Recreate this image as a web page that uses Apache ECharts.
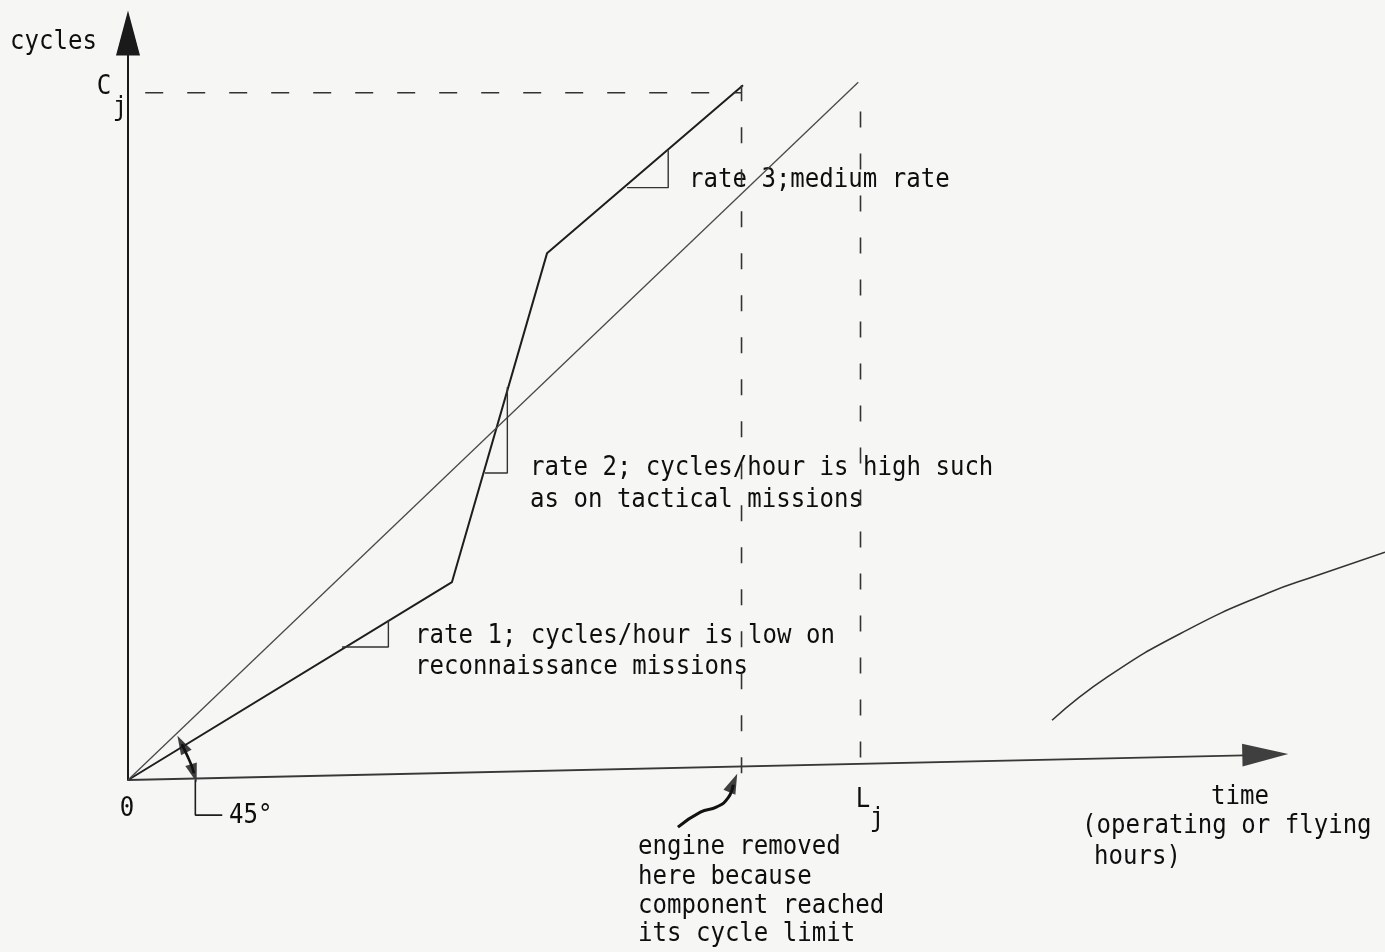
<!DOCTYPE html>
<html>
<head>
<meta charset="utf-8">
<script src="https://cdn.jsdelivr.net/npm/echarts@6/dist/echarts.min.js"></script>
<style>
  html, body { margin: 0; padding: 0; background: #f6f6f4; }
  #chart { width: 1385px; height: 952px; }
</style>
</head>
<body>
<div id="chart"></div>
<script>
// ---- data (time units on x, cycle units on y) ----
const engineTime   = [0, 43.3, 56.0, 82.2];
const engineCycles = [0, 26.5, 70.5, 93.0];
const refTime      = [0, 97.6];
const refCycles    = [0, 93.4];
const cycleLimitCj = 92.0;
const cjLineStart  = 2.3;
const removalTime  = 82.0;
const lifeLimitLj  = 97.9;
const ljTop        = 89.5;
const ljBottom     = 2.2;
// time axis as drawn (the scanned axis rises slightly to the right)
const timeAxisLine = [[0, 0], [149.2, 3.3]];
const timeAxisHead = [[152.0, 3.4]];
// slope-indicator triangles [time, cycles]
const rate1Tri = [[28.6, 17.8], [34.8, 17.8], [34.8, 21.4]];
const rate2Tri = [[47.7, 41.1], [50.7, 41.1], [50.7, 52.6]];
const rate3Tri = [[66.7, 79.3], [72.2, 79.3], [72.2, 84.3]];
// annotation arrows
const angleArc     = [[7.2, 4.8], [7.9, 3.3], [8.5, 1.9], [8.8, 0.9]];
const angleHeads   = [[7.2, 4.8], [8.8, 0.9]];
const angleLeader  = [[9.0, 0], [9.0, -4.7], [12.6, -4.7]];
const removalArrow = [[73.5, -6.3], [76.5, -4.3], [78.7, -3.6], [80.2, -2.4], [80.9, -0.6]];
const removalHead  = [[80.9, -0.4]];
// stray page mark in the scan
const scanMark = [[123.5, 8.0], [130.9, 13.8], [141.6, 20.1], [152.3, 25.0], [159.0, 27.4], [168.0, 30.5]];

const xMax = 168, yMax = 100;
const INK = '#0e0e0e';

function zip(a, b) { return a.map((v, i) => [v, b[i]]); }

const chart = echarts.init(document.getElementById('chart'));

function txt(text, x, y, align) {
  return {
    type: 'text', x: x, y: y, scaleX: 0.925, silent: true,
    style: {
      text: text,
      font: '26px "DejaVu Sans Mono", "Liberation Mono", monospace',
      fill: INK, align: align || 'left', verticalAlign: 'middle'
    }
  };
}
function plain(name, data, color, width, extra) {
  return Object.assign({ name: name, type: 'line', data: data, symbol: 'none', clip: false,
    lineStyle: { color: color, width: width } }, extra || {});
}

const option = {
  backgroundColor: '#f6f6f4',
  animation: false,
  grid: { left: 128, right: 0, top: 33, bottom: 172 },
  xAxis: {
    type: 'value', min: 0, max: xMax,
    axisLine: { show: false },
    axisTick: { show: false }, axisLabel: { show: false }, splitLine: { show: false }
  },
  yAxis: {
    type: 'value', min: 0, max: yMax,
    axisLine: { show: true, lineStyle: { color: '#1a1a1a', width: 2 },
                symbol: ['none', 'triangle'], symbolSize: [24, 45] },
    axisTick: { show: false }, axisLabel: { show: false }, splitLine: { show: false }
  },
  series: [
    plain('time axis', timeAxisLine, '#383838', 1.8),
    { name: 'time axis head', type: 'scatter', data: timeAxisHead, clip: false,
      symbol: 'triangle', symbolSize: [23, 46], symbolRotate: -88.7,
      itemStyle: { color: '#111' } },
    plain('engine history', zip(engineTime, engineCycles), '#1e1e1e', 2),
    plain('45 degree reference', zip(refTime, refCycles), '#4a4a4a', 1.3),
    plain('Cj', [[cjLineStart, cycleLimitCj], [removalTime, cycleLimitCj]], '#333', 1.6,
      { lineStyle: { color: '#333', width: 1.6, type: [18, 24] } }),
    plain('removal', [[removalTime, engineCycles[3]], [removalTime, 0.8]], '#333', 1.6,
      { lineStyle: { color: '#333', width: 1.6, type: [16, 26] } }),
    plain('Lj', [[lifeLimitLj, ljTop], [lifeLimitLj, ljBottom]], '#333', 1.6,
      { lineStyle: { color: '#333', width: 1.6, type: [16, 26] } }),
    plain('rate1', rate1Tri, '#333', 1.4),
    plain('rate2', rate2Tri, '#333', 1.4),
    plain('rate3', rate3Tri, '#333', 1.4),
    plain('angle leader', angleLeader, '#1e1e1e', 1.6),
    plain('angle arc', angleArc, '#111', 2.6, { smooth: true }),
    { name: 'angle heads', type: 'scatter', data: angleHeads, clip: false,
      symbol: 'triangle', symbolSize: [12, 19],
      symbolRotate: function (v, p) { return p.dataIndex === 0 ? 28 : -163; },
      itemStyle: { color: '#111' } },
    plain('removal arrow', removalArrow, '#111', 3, { smooth: true }),
    { name: 'removal head', type: 'scatter', data: removalHead, clip: false,
      symbol: 'triangle', symbolSize: [13, 20], symbolRotate: -23,
      itemStyle: { color: '#111' } },
    plain('scan mark', scanMark, '#333', 1.6, { smooth: true })
  ],
  graphic: [
    txt('cycles', 10, 42),
    txt('C', 104, 87, 'center'),
    txt('j', 120, 108, 'center'),
    txt('0', 127, 809, 'center'),
    txt('45°', 229, 816),
    txt('L', 863, 800, 'center'),
    txt('j', 877, 819, 'center'),
    txt('rate 3;medium rate', 689, 180),
    txt('rate 2; cycles/hour is high such', 530, 468),
    txt('as on tactical missions', 530, 500),
    txt('rate 1; cycles/hour is low on', 415, 636),
    txt('reconnaissance missions', 415, 667),
    txt('engine removed', 638, 847),
    txt('here because', 638, 877),
    txt('component reached', 638, 906),
    txt('its cycle limit', 638, 934),
    txt('time', 1240, 797, 'center'),
    txt('(operating or flying', 1082, 826),
    txt('hours)', 1094, 857)
  ]
};
chart.setOption(option);
</script>
</body>
</html>
